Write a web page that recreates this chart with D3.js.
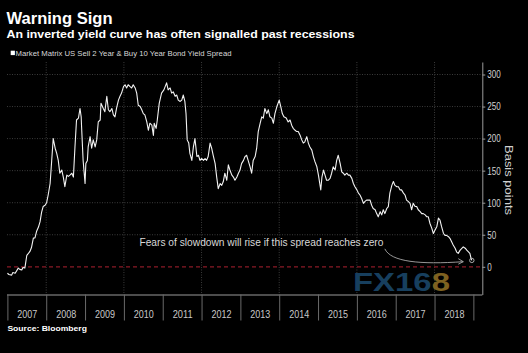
<!DOCTYPE html>
<html>
<head>
<meta charset="utf-8">
<script src="https://cdn.jsdelivr.net/npm/d3@7"></script>
<style>
  body { margin: 0; background: #000; }
  svg { display: block; }
</style>
</head>
<body>
<div id="container"></div>
<script>
/* CONSTANTS AND GLOBALS */
const width = 528;
const height = 353;
const plot = { left: 7, right: 482.3, top: 62, bottom: 294.5 };
const narrow = "'Liberation Sans Narrow', 'Liberation Sans', Arial, sans-serif";
const sans = "'Liberation Sans', Arial, sans-serif";

/* DATA */
const titleText = "Warning Sign";
const subtitleText = "An inverted yield curve has often signalled past recessions";
const legendText = "Market Matrix US Sell 2 Year & Buy 10 Year Bond Yield Spread";
const noteText = "Fears of slowdown will rise if this spread reaches zero";
const sourceText = "Source: Bloomberg";
const yearLabels = d3.range(2007, 2019);
const yTicks = [0, 50, 100, 150, 200, 250, 300];

// decimal years
const dates = [
  2007.00, 2007.04, 2007.11, 2007.14, 2007.20, 2007.28, 2007.32, 2007.37, 2007.40, 2007.45,
  2007.50, 2007.53, 2007.58, 2007.62, 2007.67, 2007.71, 2007.75, 2007.80, 2007.84, 2007.88,
  2007.92, 2007.97, 2008.01, 2008.05, 2008.10, 2008.14, 2008.18, 2008.23, 2008.27, 2008.31,
  2008.35, 2008.40, 2008.44, 2008.48, 2008.53, 2008.57, 2008.61, 2008.66, 2008.70, 2008.74,
  2008.78, 2008.83, 2008.87, 2008.90, 2008.91, 2008.95, 2009.00, 2009.02, 2009.06, 2009.08,
  2009.13, 2009.17, 2009.21, 2009.26, 2009.30, 2009.34, 2009.39, 2009.41, 2009.47, 2009.51,
  2009.56, 2009.60, 2009.64, 2009.69, 2009.73, 2009.77, 2009.81, 2009.86, 2009.90, 2009.94,
  2009.99, 2010.03, 2010.07, 2010.11, 2010.16, 2010.20, 2010.24, 2010.29, 2010.33, 2010.37,
  2010.42, 2010.46, 2010.50, 2010.54, 2010.59, 2010.63, 2010.67, 2010.72, 2010.76, 2010.78,
  2010.83, 2010.86, 2010.91, 2010.97, 2011.03, 2011.10, 2011.14, 2011.19, 2011.23, 2011.27,
  2011.32, 2011.36, 2011.40, 2011.45, 2011.49, 2011.53, 2011.57, 2011.60, 2011.63, 2011.67,
  2011.70, 2011.75, 2011.79, 2011.83, 2011.88, 2011.92, 2011.96, 2012.00, 2012.05, 2012.09,
  2012.13, 2012.17, 2012.22, 2012.26, 2012.30, 2012.35, 2012.39, 2012.43, 2012.48, 2012.52,
  2012.56, 2012.60, 2012.65, 2012.69, 2012.73, 2012.78, 2012.82, 2012.86, 2012.91, 2012.95,
  2012.99, 2013.03, 2013.08, 2013.12, 2013.16, 2013.20, 2013.25, 2013.29, 2013.33, 2013.38,
  2013.42, 2013.46, 2013.51, 2013.55, 2013.59, 2013.63, 2013.68, 2013.72, 2013.76, 2013.81,
  2013.85, 2013.89, 2013.94, 2014.00, 2014.04, 2014.08, 2014.12, 2014.18, 2014.23, 2014.28,
  2014.32, 2014.36, 2014.41, 2014.45, 2014.49, 2014.54, 2014.58, 2014.62, 2014.66, 2014.71,
  2014.75, 2014.79, 2014.84, 2014.88, 2014.92, 2014.97, 2015.01, 2015.07, 2015.10, 2015.14,
  2015.18, 2015.22, 2015.26, 2015.31, 2015.35, 2015.39, 2015.44, 2015.48, 2015.52, 2015.57,
  2015.61, 2015.65, 2015.69, 2015.74, 2015.78, 2015.82, 2015.87, 2015.91, 2015.95, 2016.00,
  2016.04, 2016.08, 2016.12, 2016.17, 2016.21, 2016.25, 2016.29, 2016.34, 2016.38, 2016.42,
  2016.47, 2016.51, 2016.55, 2016.60, 2016.64, 2016.68, 2016.72, 2016.77, 2016.81, 2016.85,
  2016.90, 2016.94, 2016.98, 2017.03, 2017.07, 2017.11, 2017.15, 2017.20, 2017.24, 2017.28,
  2017.32, 2017.37, 2017.41, 2017.45, 2017.50, 2017.54, 2017.58, 2017.63, 2017.67, 2017.71,
  2017.76, 2017.80, 2017.84, 2017.88, 2017.93, 2017.97, 2018.01, 2018.06, 2018.10, 2018.14,
  2018.18, 2018.23, 2018.27, 2018.31, 2018.36, 2018.40, 2018.44, 2018.48, 2018.53, 2018.57,
  2018.61, 2018.66, 2018.74, 2018.79, 2018.83, 2018.91, 2018.94, 2018.96
];

// basis points
const spread = [
  -10, -12, -13, -9, -10, -2, -4, -5, -1, -2,
  18, 20, 24, 30, 45, 45, 55, 62, 70, 85,
  94, 96, 100, 112, 130, 165, 200, 185, 177, 166,
  146, 151, 140, 125, 143, 141, 143, 146, 140, 187,
  229, 232, 247, 234, 219, 166, 130, 161, 166, 187,
  203, 185, 198, 187, 198, 226, 229, 255, 247, 242,
  266, 245, 242, 247, 237, 234, 247, 260, 266, 271,
  281, 284, 279, 284, 281, 279, 284, 279, 271, 252,
  250, 245, 239, 237, 226, 213, 224, 221, 205, 224,
  216, 229, 255, 271, 276, 287, 276, 279, 271, 273,
  266, 268, 260, 258, 260, 268, 258, 239, 198, 193,
  177, 166, 187, 200, 172, 174, 166, 169, 166, 169,
  166, 172, 193, 185, 174, 161, 140, 122, 130, 127,
  133, 146, 135, 159, 151, 143, 140, 135, 140, 146,
  151, 161, 166, 172, 174, 166, 156, 146, 166, 172,
  185, 211, 224, 234, 232, 247, 239, 245, 234, 232,
  224, 239, 250, 260, 250, 239, 234, 232, 226, 229,
  221, 216, 213, 211, 211, 205, 198, 193, 195, 203,
  193, 187, 182, 172, 164, 156, 143, 120, 140, 151,
  143, 135, 135, 138, 146, 156, 151, 166, 174, 161,
  148, 146, 143, 146, 143, 143, 138, 130, 125, 120,
  115, 112, 107, 99, 102, 104, 104, 104, 96, 91,
  89, 83, 78, 86, 81, 89, 83, 91, 94, 115,
  127, 133, 127, 125, 125, 120, 120, 115, 112, 104,
  102, 99, 89, 99, 94, 94, 89, 86, 83, 83,
  81, 78, 78, 68, 60, 52, 57, 63, 76, 73,
  63, 52, 49, 49, 47, 44, 39, 34, 29, 23,
  21, 26, 31, 29, 26, 21, 13, 10
];

const data = dates.map((d, i) => ({ date: d, value: spread[i] }));

/* SVG */
const svg = d3.select("#container").append("svg")
  .attr("width", width)
  .attr("height", height)
  .style("background", "#000");

/* SCALES */
const xScale = d3.scaleLinear()
  .domain([2007, 2019.23])
  .range([7.4, plot.right]);

const yScale = d3.scaleLinear()
  .domain([-43.2, 319.5])
  .range([plot.bottom, plot.top]);

/* GRID */
svg.append("g")
  .selectAll("line")
  .data(yTicks.filter(d => d > 0))
  .join("line")
  .attr("x1", plot.left)
  .attr("x2", plot.right)
  .attr("y1", d => yScale(d))
  .attr("y2", d => yScale(d))
  .attr("stroke", "#4a4a4a")
  .attr("stroke-width", 0.8)
  .attr("stroke-dasharray", "1,1.5");

svg.append("g")
  .selectAll("line")
  .data([2008, 2010, 2012, 2014, 2016, 2018])
  .join("line")
  .attr("x1", d => xScale(d))
  .attr("x2", d => xScale(d))
  .attr("y1", plot.top)
  .attr("y2", plot.bottom)
  .attr("stroke", "#4a4a4a")
  .attr("stroke-width", 0.8)
  .attr("stroke-dasharray", "1,1.5");

// zero line
svg.append("line")
  .attr("x1", plot.left)
  .attr("x2", plot.right)
  .attr("y1", yScale(0))
  .attr("y2", yScale(0))
  .attr("stroke", "#8a1a26")
  .attr("stroke-width", 1.2)
  .attr("stroke-dasharray", "4,3");

/* WATERMARK */
const wm = svg.append("text")
  .attr("x", 353)
  .attr("y", 290.5)
  .attr("font-family", sans)
  .attr("font-weight", "bold")
  .attr("font-size", 25)
  .attr("textLength", 97)
  .attr("lengthAdjust", "spacingAndGlyphs");
wm.append("tspan").attr("fill", "#173f5e").text("FX16");
wm.append("tspan").attr("fill", "#7e6120").text("8");

/* AXES */
const xAxis = d3.axisBottom(xScale)
  .tickValues(d3.range(2007, 2020))
  .tickFormat("")
  .tickSize(26)
  .tickSizeOuter(0);

const gx = svg.append("g")
  .attr("transform", `translate(0,${plot.bottom})`)
  .call(xAxis);
gx.select(".domain").attr("stroke", "#9a9a9a").attr("d", `M${plot.left},0.5H${plot.right}`);
gx.selectAll(".tick line").attr("stroke", "#6a6a6a");

const xLabels = d3.axisBottom(xScale)
  .tickValues(yearLabels.map(d => d + 0.5))
  .tickFormat(d => Math.floor(d))
  .tickSize(0)
  .tickPadding(16.5);

const gxl = svg.append("g")
  .attr("transform", `translate(0,${plot.bottom})`)
  .call(xLabels);
gxl.select(".domain").remove();
gxl.selectAll("text")
  .attr("fill", "#c8c8c8")
  .attr("font-family", narrow)
  .attr("font-size", 10.5)
  .attr("textLength", 20)
  .attr("lengthAdjust", "spacingAndGlyphs");

const yAxis = d3.axisRight(yScale)
  .tickValues(yTicks)
  .tickSize(3)
  .tickPadding(2)
  .tickSizeOuter(0);

const gy = svg.append("g")
  .attr("transform", `translate(${plot.right},0)`)
  .call(yAxis);
gy.select(".domain").attr("stroke", "#9a9a9a");
gy.selectAll(".tick line").attr("stroke", "#9a9a9a");
gy.selectAll("text")
  .attr("fill", "#d0d0d0")
  .attr("font-family", narrow)
  .attr("font-size", 10.5)
  .attr("textLength", d => String(d).length * 4.5)
  .attr("lengthAdjust", "spacingAndGlyphs");

svg.append("text")
  .attr("transform", `translate(505,180) rotate(90)`)
  .attr("text-anchor", "middle")
  .attr("fill", "#d0d0d0")
  .attr("font-family", sans)
  .attr("font-size", 11)
  .attr("textLength", 70)
  .attr("lengthAdjust", "spacingAndGlyphs")
  .text("Basis points");

/* LINE */
const line = d3.line()
  .x(d => xScale(d.date))
  .y(d => yScale(d.value));

svg.append("path")
  .datum(data)
  .attr("fill", "none")
  .attr("stroke", "#f2f2f2")
  .attr("stroke-width", 1.1)
  .attr("stroke-linejoin", "round")
  .attr("d", line);

const last = data[data.length - 1];
svg.append("circle")
  .attr("cx", xScale(last.date))
  .attr("cy", yScale(last.value))
  .attr("r", 2.2)
  .attr("fill", "none")
  .attr("stroke", "#bbbbbb")
  .attr("stroke-width", 0.9);

/* ANNOTATION */
svg.append("text")
  .attr("x", xScale(2010.40))
  .attr("y", yScale(33))
  .attr("fill", "#d8d8d8")
  .attr("font-family", narrow)
  .attr("font-size", 11.5)
  .attr("textLength", 244)
  .attr("lengthAdjust", "spacingAndGlyphs")
  .text(noteText);

const a0 = [xScale(2016.72), yScale(28)];
const a1 = [xScale(2018.74), yScale(8)];
svg.append("path")
  .attr("fill", "none")
  .attr("stroke", "#a8a8a8")
  .attr("stroke-width", 0.9)
  .attr("d", `M${a0[0]},${a0[1]} C${a0[0] + 6},${a0[1] + 13} ${a0[0] + 35},${a1[1] + 3} ${a1[0]},${a1[1]}`);
svg.append("path")
  .attr("fill", "none")
  .attr("stroke", "#a8a8a8")
  .attr("stroke-width", 0.9)
  .attr("d", `M${a1[0] - 5},${a1[1] - 3} L${a1[0]},${a1[1]} L${a1[0] - 5},${a1[1] + 2.5}`);

/* TITLES */
svg.append("text")
  .attr("x", 6.5)
  .attr("y", 24)
  .attr("fill", "#ffffff")
  .attr("font-family", sans)
  .attr("font-weight", "bold")
  .attr("font-size", 16.5)
  .attr("textLength", 106)
  .attr("lengthAdjust", "spacingAndGlyphs")
  .text(titleText);

svg.append("text")
  .attr("x", 6.5)
  .attr("y", 38)
  .attr("fill", "#ffffff")
  .attr("font-family", sans)
  .attr("font-weight", "bold")
  .attr("font-size", 11.5)
  .attr("textLength", 348)
  .attr("lengthAdjust", "spacingAndGlyphs")
  .text(subtitleText);

svg.append("rect")
  .attr("x", 10.7)
  .attr("y", 50.7)
  .attr("width", 4.2)
  .attr("height", 4.4)
  .attr("fill", "#ffffff");

svg.append("text")
  .attr("x", 15.5)
  .attr("y", 56)
  .attr("fill", "#d8d8d8")
  .attr("font-family", narrow)
  .attr("font-size", 8)
  .attr("textLength", 216)
  .attr("lengthAdjust", "spacingAndGlyphs")
  .text(legendText);

svg.append("text")
  .attr("x", 7.4)
  .attr("y", 331)
  .attr("fill", "#ffffff")
  .attr("font-family", sans)
  .attr("font-weight", "bold")
  .attr("font-size", 8)
  .attr("textLength", 79.5)
  .attr("lengthAdjust", "spacingAndGlyphs")
  .text(sourceText);
</script>
</body>
</html>
